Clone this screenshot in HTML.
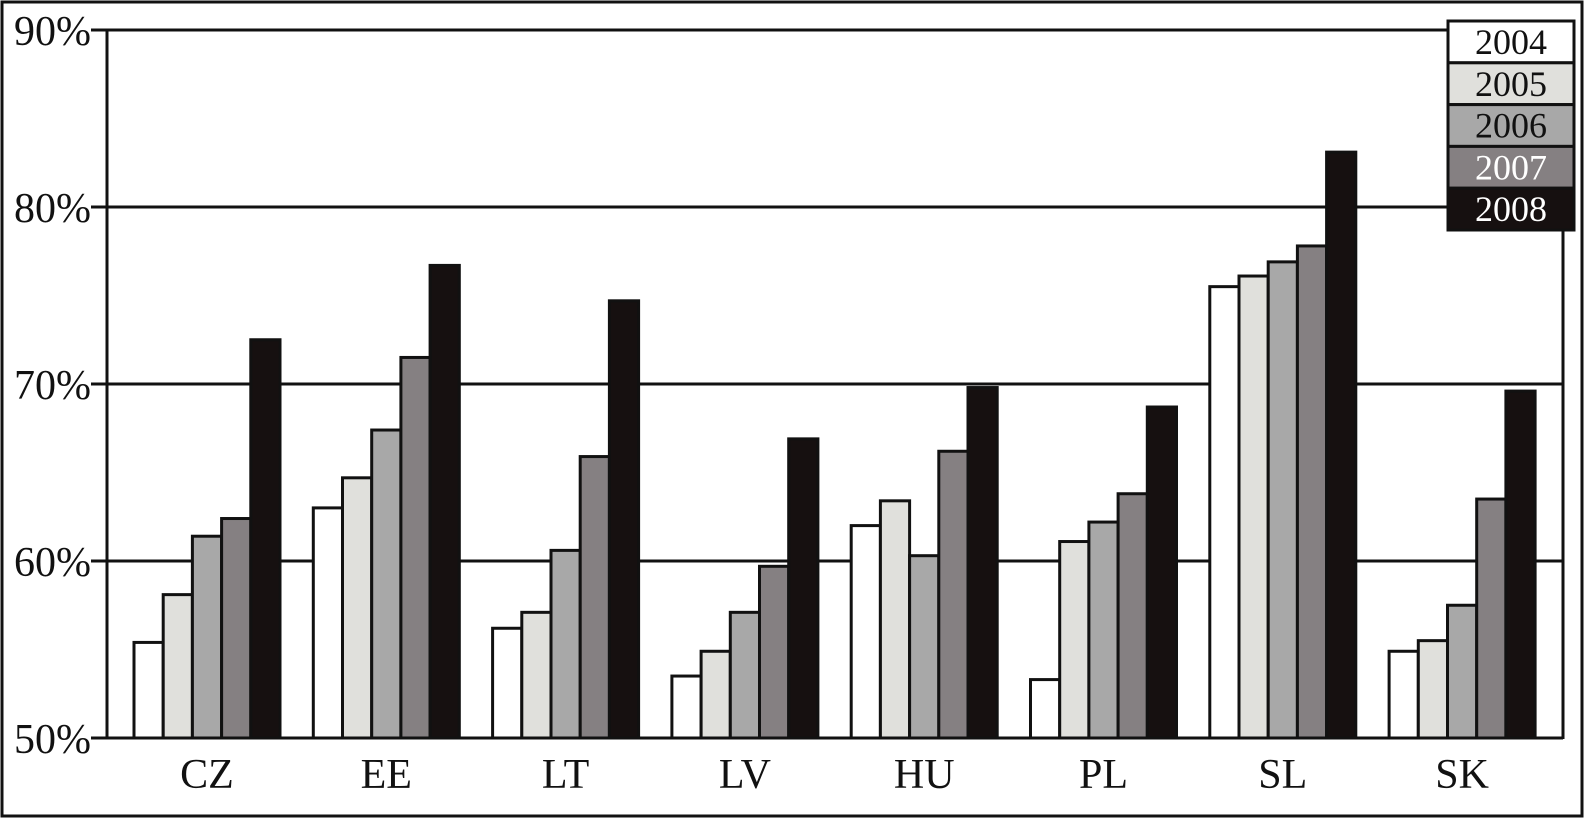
<!DOCTYPE html>
<html><head><meta charset="utf-8"><style>
html,body{margin:0;padding:0;background:#fff}
svg{display:block}
text{font-family:"Liberation Serif",serif}
</style></head><body>
<svg id="chart" width="1585" height="819" viewBox="0 0 1585 819">
<rect x="2" y="2" width="1580" height="814" fill="#fff" stroke="#111" stroke-width="3"/>
<g id="grid"></g><g id="bars"></g><g id="axes"></g><g id="legend"></g>
</svg>
<script>
const categories=["CZ","EE","LT","LV","HU","PL","SL","SK"];
const years=["2004","2005","2006","2007","2008"];
const v2004=[55.4,63.0,56.2,53.5,62.0,53.3,75.5,54.9];
const v2005=[58.1,64.7,57.1,54.9,63.4,61.1,76.1,55.5];
const v2006=[61.4,67.4,60.6,57.1,60.3,62.2,76.9,57.5];
const v2007=[62.4,71.5,65.9,59.7,66.2,63.8,77.8,63.5];
const v2008=[72.5,76.7,74.7,66.9,69.8,68.7,83.1,69.6];
const yTicks=[50,60,70,80,90];
const yTickLabels=["50%","60%","70%","80%","90%"];
const series=[v2004,v2005,v2006,v2007,v2008];
const colors=["#ffffff","#e0e0dc","#a8a8a8","#858082","#161010"];
const NS="http://www.w3.org/2000/svg";
const L=107,R=1563,T=30,B=738;
const y=v=>B-(v-50)/40*(B-T);
const groupX=i=>134+i*179.3;
const bw=29.2;
function mk(tag,attrs,parent){const e=document.createElementNS(NS,tag);for(const k in attrs)e.setAttribute(k,attrs[k]);parent.appendChild(e);return e;}
const grid=document.getElementById('grid'),bars=document.getElementById('bars'),axes=document.getElementById('axes'),leg=document.getElementById('legend');
yTicks.forEach((t,i)=>{
  const ln=mk('line',{x1:91,x2:R,y1:y(t),y2:y(t),stroke:'#111','stroke-width':3},grid);
  
  
  const tx=mk('text',{x:91,y:y(t)+15,'text-anchor':'end','font-size':42,fill:'#111'},axes);
  tx.textContent=yTickLabels[i];
  
  
});
categories.forEach((c,i)=>{
  series.forEach((s,j)=>{
    const r=mk('rect',{x:groupX(i)+j*bw,y:y(s[i]),width:bw,height:B-y(s[i]),fill:colors[j],stroke:'#111','stroke-width':3},bars);
    
    
  });
  const tx=mk('text',{x:groupX(i)+bw*2.5,y:788,'text-anchor':'middle','font-size':42,fill:'#111'},axes);
  tx.textContent=c;
  
  
});
const ax=mk('line',{x1:L,x2:L,y1:T-1,y2:B+1,stroke:'#111','stroke-width':3},axes);


const ar=mk('line',{x1:R,x2:R,y1:T-1,y2:B+1,stroke:'#111','stroke-width':3},axes);


years.forEach((yr,j)=>{
  const ry=21+j*41.8;
  const r=mk('rect',{x:1448,y:ry,width:126,height:41.8,fill:colors[j],stroke:'#111','stroke-width':3},leg);
  
  
  const tx=mk('text',{x:1511,y:ry+33,'text-anchor':'middle','font-size':36,fill:j>=3?'#fff':'#111'},leg);
  tx.textContent=yr;
  
  
});
</script>
</body></html>
